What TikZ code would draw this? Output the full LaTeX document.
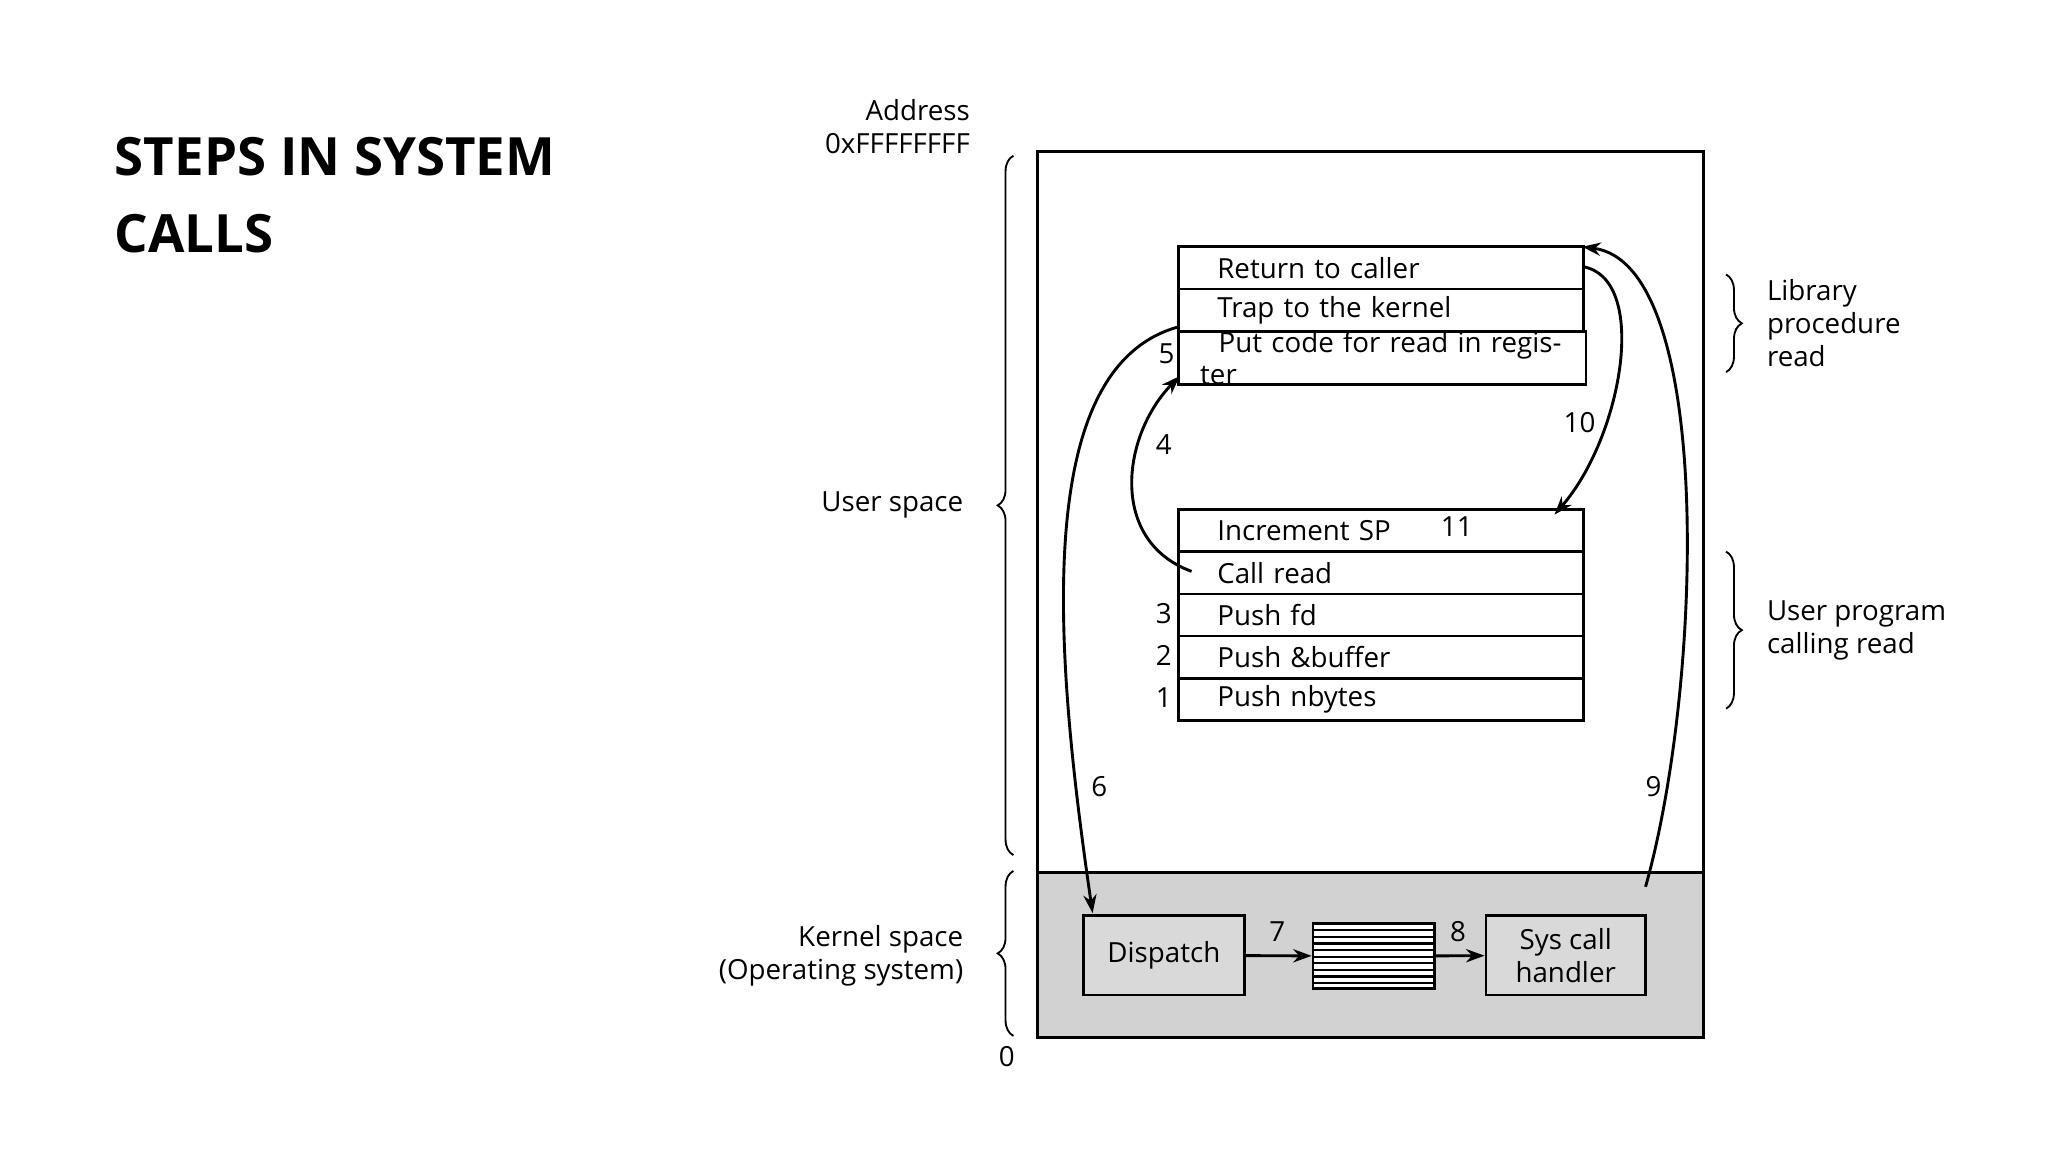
\documentclass[tikz,border=0pt]{standalone}
\usepackage{fontspec}
\setmainfont{Open Sans}
\usetikzlibrary{decorations.pathreplacing,arrows.meta}
\begin{document}
\begin{tikzpicture}[x=0.5pt,y=-0.5pt,
  cell/.style={draw,line width=1pt,minimum height=16pt,anchor=north west,inner sep=0pt,text width=138pt,align=left,font=\fontsize{10.5}{12}\selectfont},
  box/.style={draw,line width=1pt,fill=gray!30,align=center,font=\fontsize{10.5}{12.5}\selectfont},
  lbl/.style={font=\fontsize{10.5}{12.5}\selectfont},
  brace/.style={decorate,decoration={brace,amplitude=6pt},line width=0.7pt},
  arr/.style={line width=1.1pt,-{Stealth[length=7pt,width=5pt]}}]
\useasboundingbox (0,0) rectangle (1552,873);
\node[anchor=north west,align=left,font=\fontsize{20}{29}\selectfont\bfseries] (title) at (80,97) {STEPS IN SYSTEM\\CALLS};
% outer
\fill[gray!35] (786,661) rectangle (1291,786);
\draw[line width=1pt] (786,115) rectangle (1291,786);
\draw[line width=1pt] (786,661) -- (1291,661);
% library
\node[cell,minimum width=153.5pt] (ret) at (892,186) {\hspace{7pt}Return to caller};
\node[cell,minimum width=153.5pt] (trap) at (892,218) {\hspace{7pt}Trap to the kernel};
\node[cell,minimum width=154.5pt] (put) at (892,250) {\hspace{7pt}Put code for read in register};
% user program
\node[cell,minimum width=153.5pt] (inc) at (892,385) {\hspace{7pt}Increment SP};
\node[cell,minimum width=153.5pt] (call) at (892,417) {\hspace{7pt}Call read};
\node[cell,minimum width=153.5pt] (pfd) at (892,449) {\hspace{7pt}Push fd};
\node[cell,minimum width=153.5pt] (pbuf) at (892,481) {\hspace{7pt}Push \&buffer};
\node[cell,minimum width=153.5pt] (pn) at (892,513) {\hspace{7pt}Push nbytes};
% kernel boxes
\node[box,minimum width=61pt,minimum height=30pt] (disp) at (882,724) {Dispatch};
\node[draw,line width=1pt,fill=white,minimum width=46pt,minimum height=24.5pt] (tab) at (1041,724.5) {};
\foreach \y in {705,710,...,745} \draw[line width=0.8pt] (995,\y) -- (1087,\y);
\node[box,minimum width=60.5pt,minimum height=30pt] (sys) at (1186.5,724) {Sys call\\handler};
% numbers
\node[lbl] (n5) at (884,268) {5};
\node[lbl] (n3) at (882,465) {3};
\node[lbl] (n2) at (882,497) {2};
\node[lbl] (n1) at (882,529) {1};
\node[lbl] (n11) at (1104,399) {11};
\node[lbl] (n4) at (882,337) {4};
\node[lbl] (n10) at (1197,320) {10};
\node[lbl] (n6) at (833,596) {6};
\node[lbl] (n9) at (1253,596) {9};
\node[lbl] (n7) at (968,706) {7};
\node[lbl] (n8) at (1105,706) {8};
% arrows
\coordinate (a6s) at (892,248);
\coordinate (a6e) at (828,692);
\draw[arr] (a6s) .. controls (780,280) and (800,500) .. (a6e);
\coordinate (a4s) at (903,433);
\coordinate (a4e) at (894,285);
\draw[arr] (a4s) .. controls (840,410) and (850,330) .. (a4e);
\coordinate (a10s) at (1199,202);
\coordinate (a10e) at (1178,390);
\draw[arr] (a10s) .. controls (1250,210) and (1230,330) .. (a10e);
\coordinate (a9s) at (1247,672);
\coordinate (a9e) at (1199,187);
\draw[arr] (a9s) .. controls (1290,520) and (1300,200) .. (a9e);
\draw[arr] (disp) -- (tab);
\draw[arr] (tab) -- (sys);
% braces
\draw[brace] (768,648) -- (768,118);
\draw[brace] (768,785) -- (768,660);
\draw[brace] (1308,208) -- (1308,282);
\draw[brace] (1308,418) -- (1308,537);
\node[lbl,anchor=east] (us) at (737,383) {User space};
\node[lbl,anchor=east,align=right] (ks) at (737,724) {Kernel space\\(Operating system)};
\node[lbl] (zero) at (763,801) {0};
\node[lbl,anchor=east,align=right] (addr) at (742,96) {Address\\0xFFFFFFFF};
\node[lbl,anchor=west,align=left] (lib) at (1332,245) {Library\\procedure\\read};
\node[lbl,anchor=west,align=left] (up) at (1332,478) {User program\\calling read};
\end{tikzpicture}
\end{document}
